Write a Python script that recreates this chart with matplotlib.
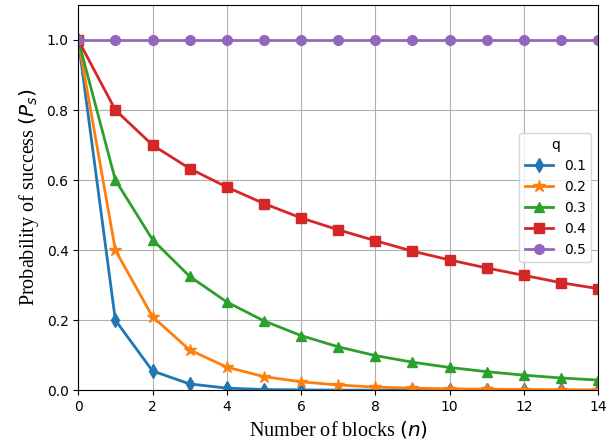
import matplotlib
matplotlib.use("Agg")
import matplotlib.pyplot as plt

n_blocks = list(range(15))
q_labels = ["0.1", "0.2", "0.3", "0.4", "0.5"]
ps_q01 = [1.0, 0.20, 0.055, 0.018, 0.006, 0.002, 0.001, 0.0004, 0.0002, 0.0001, 0.0, 0.0, 0.0, 0.0, 0.0]
ps_q02 = [1.0, 0.40, 0.21, 0.115, 0.066, 0.039, 0.024, 0.015, 0.009, 0.006, 0.004, 0.003, 0.002, 0.001, 0.001]
ps_q03 = [1.0, 0.60, 0.43, 0.325, 0.252, 0.198, 0.156, 0.124, 0.099, 0.080, 0.065, 0.053, 0.043, 0.035, 0.029]
ps_q04 = [1.0, 0.80, 0.70, 0.633, 0.580, 0.533, 0.492, 0.458, 0.427, 0.397, 0.372, 0.349, 0.328, 0.307, 0.290]
ps_q05 = [1.0] * 15
series = [ps_q01, ps_q02, ps_q03, ps_q04, ps_q05]
markers = ["d", "*", "^", "s", "o"]
colors = ["#1f77b4", "#ff7f0e", "#2ca02c", "#d62728", "#9467bd"]

fig, ax = plt.subplots(figsize=(6.16, 4.47), dpi=100)
for vals, lab, m, c in zip(series, q_labels, markers, colors):
    ax.plot(n_blocks, vals, marker=m, color=c, label=lab, linewidth=2,
            markersize=9 if m == "*" else 7)

ax.set_xlim(0, 14)
ax.set_ylim(0, 1.1)
ax.set_xticks(range(0, 15, 2))
ax.set_yticks([0.0, 0.2, 0.4, 0.6, 0.8, 1.0])
ax.grid(True, color="#b0b0b0", linewidth=0.8)
ax.set_xlabel(r"Number of blocks $(n)$", fontfamily="Liberation Serif", fontsize=14.5)
ax.set_ylabel(r"Probability of success $(P_s)$", fontfamily="Liberation Serif", fontsize=14.5)
ax.tick_params(labelsize=10)
ax.legend(title="q", loc="center right", fontsize=10, title_fontsize=10)
fig.subplots_adjust(left=0.127, right=0.971, top=0.989, bottom=0.127)
fig.savefig("out.png", dpi=100)
